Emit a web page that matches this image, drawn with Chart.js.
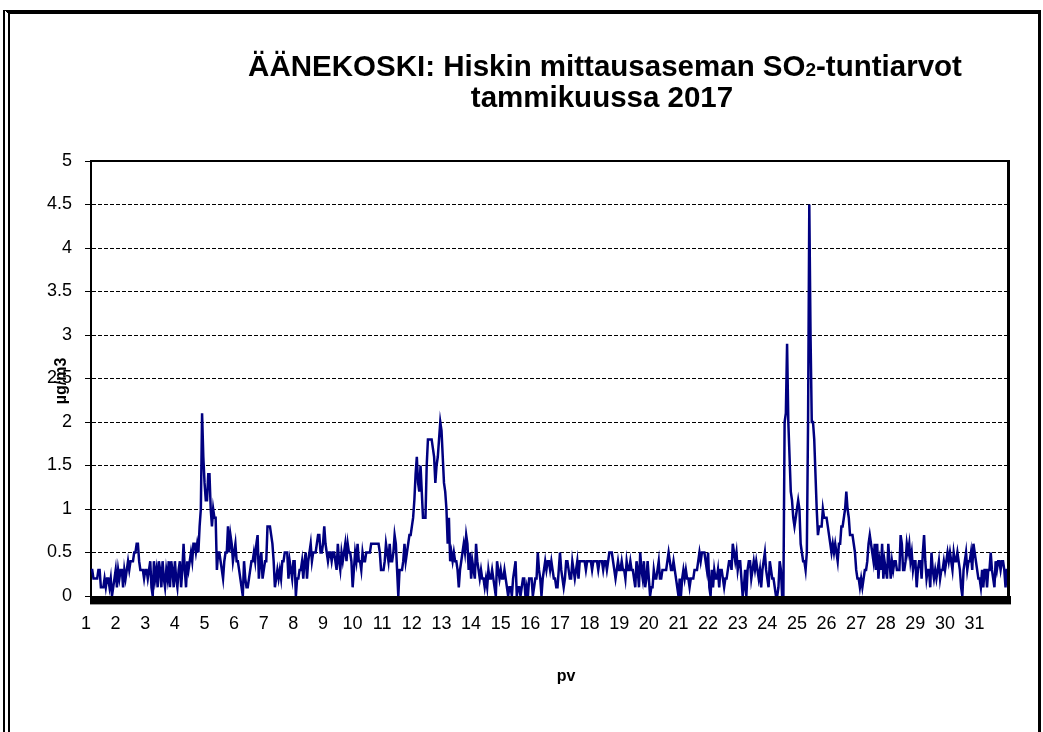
<!DOCTYPE html>
<html>
<head>
<meta charset="utf-8">
<script src="https://cdn.jsdelivr.net/npm/chart.js@4.4.1/dist/chart.umd.min.js"></script>
<style>
  body { margin: 0; background: #fff; }
  #wrap { position: relative; width: 1043px; height: 732px; overflow: hidden; }
  #frame { position: absolute; left: 3px; top: 10px; width: 1028px; height: 740px;
           border-top: 4px solid #000; border-left: 7px double #000; border-right: 3px solid #000; }
  #chart { position: absolute; left: 0; top: 0; }
</style>
</head>
<body>
<div id="wrap">
  <div id="frame"></div>
  <canvas id="chart" width="1043" height="732"></canvas>
</div>
<script>
// SO2-tuntiarvot (µg/m3), 24 arvoa per päivä
const viikko1 = [ // 1.-7.1.
  0.3,0.3,0.2,0.2,0.2,0.2,0.3,0.3,0.1,0.1,0.1,0.2,0.1,0.2,0.2,0.1,0.2,0.0,0.1,0.2,0.3,0.1,0.3,0.2,
  0.3,0.3,0.1,0.3,0.2,0.3,0.4,0.3,0.4,0.4,0.4,0.5,0.5,0.6,0.6,0.4,0.3,0.3,0.3,0.2,0.3,0.3,0.2,0.3,
  0.4,0.1,0.0,0.4,0.2,0.3,0.1,0.4,0.3,0.1,0.4,0.2,0.1,0.3,0.2,0.4,0.1,0.4,0.3,0.1,0.4,0.2,0.1,0.3,
  0.4,0.1,0.3,0.6,0.3,0.1,0.4,0.3,0.4,0.5,0.4,0.6,0.6,0.5,0.6,0.5,0.8,1.0,2.1,1.6,1.3,1.1,1.1,1.4,
  1.4,1.0,0.8,1.0,0.9,0.9,0.3,0.5,0.5,0.4,0.3,0.2,0.4,0.5,0.5,0.8,0.5,0.7,0.6,0.4,0.5,0.6,0.4,0.4,
  0.3,0.2,0.1,0.0,0.4,0.2,0.1,0.1,0.2,0.3,0.4,0.4,0.5,0.4,0.6,0.7,0.2,0.4,0.5,0.2,0.3,0.4,0.4,0.8,
  0.8,0.8,0.7,0.6,0.4,0.1,0.2,0.3,0.2,0.3,0.2,0.4,0.4,0.5,0.5,0.5,0.2,0.4,0.3,0.2,0.4,0.4,0.0,0.2
];
const viikko2 = [ // 8.-14.1.
  0.2,0.3,0.3,0.4,0.2,0.4,0.5,0.2,0.4,0.5,0.6,0.4,0.5,0.5,0.5,0.6,0.7,0.7,0.5,0.5,0.6,0.8,0.6,0.5,
  0.4,0.5,0.5,0.4,0.5,0.5,0.4,0.3,0.6,0.4,0.3,0.5,0.4,0.5,0.6,0.4,0.6,0.5,0.5,0.4,0.1,0.3,0.5,0.4,
  0.6,0.4,0.4,0.3,0.5,0.4,0.4,0.5,0.5,0.5,0.5,0.6,0.6,0.6,0.6,0.6,0.6,0.6,0.5,0.3,0.3,0.3,0.4,0.6,
  0.5,0.4,0.6,0.4,0.4,0.5,0.7,0.6,0.3,0.0,0.3,0.3,0.3,0.4,0.6,0.4,0.5,0.6,0.7,0.7,0.8,0.9,1.1,1.4,
  1.6,1.3,1.2,1.5,1.2,0.9,0.9,0.9,1.5,1.8,1.8,1.8,1.8,1.7,1.6,1.3,1.5,1.6,1.8,2.0,1.9,1.6,1.3,1.2,
  1.0,0.6,0.9,0.4,0.5,0.4,0.5,0.4,0.4,0.3,0.1,0.3,0.4,0.5,0.6,0.5,0.7,0.6,0.3,0.5,0.2,0.4,0.3,0.2,
  0.6,0.4,0.3,0.2,0.3,0.2,0.2,0.1,0.2,0.1,0.3,0.2,0.2,0.3,0.2,0.1,0.0,0.4,0.3,0.2,0.3,0.2,0.2,0.3
];
const viikko3 = [ // 15.-21.1.
  0.2,0.1,0.0,0.1,0.1,0.0,0.2,0.3,0.4,0.0,0.1,0.1,0.0,0.1,0.2,0.2,0.0,0.1,0.0,0.2,0.2,0.2,0.0,0.1,
  0.2,0.2,0.5,0.3,0.2,0.0,0.2,0.3,0.4,0.3,0.4,0.4,0.3,0.4,0.3,0.2,0.2,0.1,0.1,0.3,0.5,0.3,0.2,0.1,
  0.2,0.4,0.4,0.3,0.2,0.2,0.4,0.3,0.2,0.3,0.4,0.2,0.4,0.4,0.4,0.4,0.4,0.3,0.4,0.4,0.4,0.4,0.3,0.4,
  0.4,0.4,0.4,0.3,0.4,0.4,0.4,0.3,0.4,0.4,0.3,0.4,0.5,0.5,0.5,0.4,0.3,0.2,0.3,0.4,0.3,0.3,0.4,0.3,
  0.3,0.2,0.4,0.3,0.3,0.4,0.3,0.3,0.2,0.1,0.4,0.3,0.1,0.5,0.3,0.2,0.4,0.1,0.2,0.4,0.2,0.0,0.1,0.1,
  0.3,0.2,0.2,0.3,0.4,0.2,0.2,0.3,0.3,0.3,0.3,0.4,0.5,0.4,0.3,0.3,0.4,0.3,0.2,0.1,0.0,0.2,0.0,0.2,
  0.3,0.2,0.3,0.2,0.2,0.1,0.2,0.2,0.2,0.3,0.3,0.3,0.4,0.5,0.4,0.5,0.5,0.5,0.4,0.3,0.5,0.1,0.0,0.3
];
const viikko4 = [ // 22.-28.1.
  0.1,0.3,0.2,0.2,0.3,0.1,0.3,0.3,0.2,0.1,0.2,0.2,0.3,0.4,0.4,0.3,0.6,0.5,0.4,0.5,0.3,0.4,0.4,0.2,
  0.0,0.1,0.3,0.0,0.3,0.4,0.4,0.2,0.3,0.4,0.3,0.4,0.3,0.2,0.3,0.1,0.3,0.4,0.5,0.3,0.2,0.1,0.4,0.3,
  0.2,0.2,0.1,0.0,0.0,0.1,0.4,0.3,0.0,0.0,2.0,2.1,2.9,2.0,1.6,1.2,1.1,0.9,0.8,0.9,1.0,1.1,1.0,0.6,
  0.5,0.4,0.4,0.3,0.5,2.0,4.5,3.0,2.0,2.0,1.8,1.4,1.0,0.7,0.8,0.8,0.8,1.0,0.9,0.9,0.9,0.8,0.7,0.6,
  0.5,0.6,0.5,0.6,0.5,0.4,0.6,0.6,0.8,0.8,0.9,1.0,1.2,1.0,0.9,0.7,0.7,0.7,0.6,0.5,0.3,0.2,0.2,0.1,
  0.2,0.1,0.2,0.3,0.3,0.4,0.6,0.7,0.6,0.5,0.4,0.6,0.3,0.6,0.2,0.4,0.3,0.6,0.2,0.4,0.3,0.2,0.6,0.4,
  0.2,0.4,0.3,0.4,0.4,0.3,0.3,0.3,0.7,0.6,0.3,0.3,0.4,0.6,0.5,0.6,0.4,0.5,0.3,0.4,0.4,0.1,0.3,0.4
];
const viikko5 = [ // 29.-31.1.
  0.4,0.2,0.5,0.7,0.4,0.2,0.3,0.3,0.1,0.5,0.3,0.2,0.3,0.2,0.3,0.4,0.2,0.3,0.3,0.4,0.3,0.4,0.5,0.4,
  0.5,0.4,0.3,0.5,0.4,0.4,0.5,0.4,0.3,0.1,0.0,0.3,0.4,0.5,0.3,0.4,0.4,0.5,0.3,0.6,0.5,0.4,0.3,0.2,
  0.2,0.1,0.3,0.1,0.3,0.3,0.1,0.3,0.3,0.5,0.3,0.2,0.1,0.4,0.3,0.4,0.4,0.3,0.4,0.4,0.3,0.1,0.3,0.3
];
const paivat = ['1','2','3','4','5','6','7','8','9','10','11','12','13','14','15','16',
                '17','18','19','20','21','22','23','24','25','26','27','28','29','30','31'];

const tuntiarvot = [].concat(viikko1, viikko2, viikko3, viikko4, viikko5);
// päivän numero vain vuorokauden ensimmäiselle tunnille
const tunnit = tuntiarvot.map((v, i) => (i % 24 === 0 ? paivat[i / 24] : ''));

const FONTTI = '"Liberation Sans", Arial, sans-serif';

// otsikko, akselien nimet ja kuvaajan kehys
const koristeet = {
    id: 'koristeet',
    afterDatasetsDraw(chart) {
        const { ctx, chartArea: a } = chart;
        ctx.save();
        ctx.fillStyle = '#000';
        ctx.fillRect(a.left, a.top - 1, a.right - a.left + 2, 2);
        ctx.fillRect(a.right - 1, a.top - 1, 3, a.bottom - a.top + 9);
        ctx.fillRect(a.left - 1, a.bottom, a.right - a.left + 4, 8);
        ctx.fillStyle = '#999';
        ctx.fillRect(a.left - 1, a.bottom + 8, a.right - a.left + 4, 1);
        ctx.restore();
    },
    afterDraw(chart) {
        const ctx = chart.ctx;
        ctx.save();
        ctx.fillStyle = '#000';
        ctx.textBaseline = 'alphabetic';
        const iso = 'bold 29.5px ' + FONTTI;
        const pieni = 'bold 19px ' + FONTTI;
        const osat = [['ÄÄNEKOSKI: Hiskin mittausaseman SO', iso], ['2', pieni], ['-tuntiarvot', iso]];
        let leveys = 0;
        osat.forEach(o => { ctx.font = o[1]; leveys += ctx.measureText(o[0]).width; });
        let x = 605 - leveys / 2;
        ctx.textAlign = 'left';
        osat.forEach(o => {
            ctx.font = o[1];
            ctx.fillText(o[0], x, 76);
            x += ctx.measureText(o[0]).width;
        });
        ctx.font = iso;
        ctx.textAlign = 'center';
        ctx.fillText('tammikuussa 2017', 602, 107);

        ctx.font = 'bold 16px ' + FONTTI;
        ctx.textBaseline = 'middle';
        ctx.fillText('pv', 566, 677);
        ctx.translate(62, 381);
        ctx.rotate(-Math.PI / 2);
        ctx.fillText('µg/m3', 0, 0);
        ctx.restore();
    }
};

new Chart(document.getElementById('chart'), {
    type: 'line',
    data: {
        labels: tunnit,
        datasets: [{
            label: 'SO2',
            data: tuntiarvot,
            borderColor: '#000080',
            borderWidth: 2.5,
            pointRadius: 0,
            tension: 0
        }]
    },
    options: {
        responsive: false,
        animation: false,
        layout: { padding: { top: 161, right: 35, left: 0, bottom: 0 } },
        plugins: { legend: { display: false }, tooltip: { enabled: false }, title: { display: false } },
        scales: {
            x: {
                afterFit: s => { s.height = 136; },
                grid: { display: false, drawTicks: false },
                border: { display: false },
                ticks: {
                    autoSkip: false, maxRotation: 0, minRotation: 0,
                    padding: 17, labelOffset: -5,
                    color: '#000', font: { family: FONTTI, size: 18 },
                    callback: (v, i) => tunnit[i]
                }
            },
            y: {
                min: 0, max: 5,
                afterFit: s => { s.width = 91; },
                ticks: {
                    stepSize: 0.5, padding: 13, color: '#000', font: { family: FONTTI, size: 18 },
                    callback: v => String(Math.round(v * 10) / 10)
                },
                grid: { color: '#000', lineWidth: 1, tickLength: 6, tickColor: '#000', tickWidth: 1, tickBorderDash: [] },
                border: { display: true, color: '#000', width: 2, dash: [4, 2] }
            }
        }
    },
    plugins: [koristeet]
});
</script>
</body>
</html>
